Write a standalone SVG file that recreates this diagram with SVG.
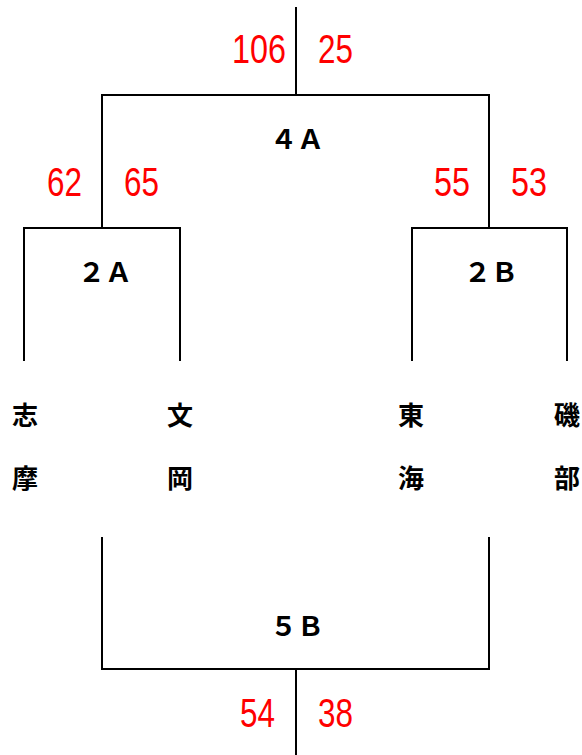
<svg xmlns="http://www.w3.org/2000/svg" width="582" height="755" viewBox="0 0 582 755">
<style>
.ln{fill:none;stroke:#000;stroke-width:2;stroke-linecap:square}
.sc{font-family:"Liberation Sans",Arial,sans-serif;font-size:40px;fill:#ff0000}
.lb{font-family:"Noto Sans CJK JP","Liberation Sans",sans-serif;font-size:27px;font-weight:bold;fill:#000;text-anchor:middle}
.tm{font-family:"Noto Sans CJK JP",sans-serif;font-size:26px;font-weight:bold;fill:#000;text-anchor:middle}
</style>
<rect width="582" height="755" fill="#fff"/>
<g id="connectors">
<path class="ln" d="M296 8V95M102 95H489M102 95V228M489 95V228"/>
<path class="ln" d="M24 360V228H180V360"/>
<path class="ln" d="M412 360V228H567V360"/>
<path class="ln" d="M102 538V669H489V538M296 669V755"/>
</g>
<g id="final4A">
<text class="lb" x="297" y="149">４Ａ</text>
<text class="sc" x="232" y="63" textLength="54" lengthAdjust="spacingAndGlyphs">106</text>
<text class="sc" x="318" y="63" textLength="35" lengthAdjust="spacingAndGlyphs">25</text>
</g>
<g id="match2A">
<text class="lb" x="105" y="282">２Ａ</text>
<text class="sc" x="47" y="196" textLength="35" lengthAdjust="spacingAndGlyphs">62</text>
<text class="sc" x="124" y="196" textLength="35" lengthAdjust="spacingAndGlyphs">65</text>
</g>
<g id="match2B">
<text class="lb" x="491" y="282">２Ｂ</text>
<text class="sc" x="434" y="196" textLength="36" lengthAdjust="spacingAndGlyphs">55</text>
<text class="sc" x="511" y="196" textLength="36" lengthAdjust="spacingAndGlyphs">53</text>
</g>
<g id="match5B">
<text class="lb" x="297" y="636">５Ｂ</text>
<text class="sc" x="240" y="727" textLength="35" lengthAdjust="spacingAndGlyphs">54</text>
<text class="sc" x="318" y="727" textLength="35" lengthAdjust="spacingAndGlyphs">38</text>
</g>
<g id="team-shima">
<text class="tm" x="25" y="425">志</text>
<text class="tm" x="25" y="488">摩</text>
</g>
<g id="team-bunoka">
<text class="tm" x="180" y="425">文</text>
<text class="tm" x="180" y="488">岡</text>
</g>
<g id="team-tokai">
<text class="tm" x="411" y="425">東</text>
<text class="tm" x="411" y="488">海</text>
</g>
<g id="team-isobe">
<text class="tm" x="567" y="425">磯</text>
<text class="tm" x="567" y="488">部</text>
</g>
</svg>
